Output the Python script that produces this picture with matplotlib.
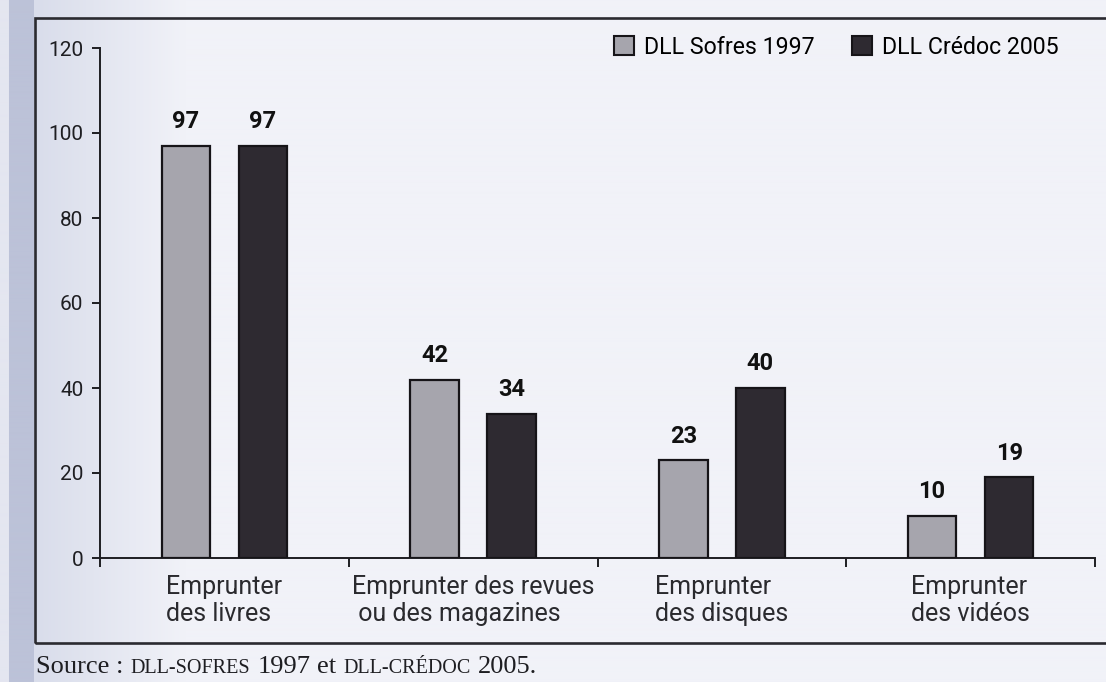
import matplotlib.pyplot as plt
import numpy as np
from matplotlib.colors import to_rgb
from matplotlib.patches import Patch, Rectangle


categories = [
    "Emprunter\ndes livres",
    "Emprunter des revues\n ou des magazines",
    "Emprunter\ndes disques",
    "Emprunter\ndes vidéos",
]
sofres_1997 = [97, 42, 23, 10]
credoc_2005 = [97, 34, 40, 19]
series_names = ["DLL Sofres 1997", "DLL Crédoc 2005"]
y_ticks = [0, 20, 40, 60, 80, 100, 120]

PAPER = "#f1f2f8"
GREY = "#a6a5ad"
DARK = "#2e2a31"
EDGE = "#161418"
INK = "#1e1e22"

W, H = 1106, 682


def draw_background(fig):
    # scanned page: bluish strip at the left margin fading into the paper
    bg = fig.add_axes([0, 0, 1, 1], zorder=-10)
    bg.axis("off")
    xs = np.arange(W)
    paper = np.array(to_rgb(PAPER))
    near = np.array(to_rgb("#d9ddeb"))
    strip = np.array(to_rgb("#bcc2d8"))
    edge = np.array(to_rgb("#e4e6f0"))
    t = np.clip((xs - 36) / 150, 0, 1)[:, None]
    row = near * (1 - t) + paper * t
    row[xs < 34] = strip
    row[xs < 9] = edge
    img = np.repeat(row[None, :, :], 2, axis=0)
    bg.imshow(img, aspect="auto", extent=[0, 1, 0, 1], interpolation="bilinear")
    bg.set_xlim(0, 1)
    bg.set_ylim(0, 1)


def draw_source(fig):
    renderer = fig.canvas.get_renderer()
    big, small = 19, 14.5
    pieces = [
        ("Source :", big),
        ("DLL-SOFRES", small),
        ("1997", big),
        ("et", big),
        ("DLL-CRÉDOC", small),
        ("2005.", big),
    ]
    x = 36 / W
    y = 1 - 673 / H
    for text, size in pieces:
        t = fig.text(x, y, text, fontsize=size, family="Liberation Serif",
                     color=INK, va="baseline", ha="left")
        bb = t.get_window_extent(renderer)
        x += (bb.width + 0.27 * big * 100 / 72) / W


def main():
    fig = plt.figure(figsize=(W / 100, H / 100), dpi=100)
    fig.patch.set_facecolor(PAPER)
    draw_background(fig)

    fig.add_artist(Rectangle((35 / W, 39 / H), 1.2, (643 - 18) / H,
                             transform=fig.transFigure, fill=False,
                             edgecolor="#2a2a30", linewidth=1.9, zorder=1))

    ax = fig.add_axes([100 / W, 124 / H, 995 / W, 510 / H])
    ax.set_facecolor("none")

    x = np.arange(len(categories))
    off, width = 0.155, 0.195
    b1 = ax.bar(x - off, sofres_1997, width, color=GREY, edgecolor=EDGE,
                linewidth=1.6, zorder=3)
    b2 = ax.bar(x + off, credoc_2005, width, color=DARK, edgecolor=EDGE,
                linewidth=1.6, zorder=3)
    for bars in (b1, b2):
        ax.bar_label(bars, padding=9, fontsize=17, fontweight="bold",
                     family="Roboto", color="#111")

    ax.set_xlim(-0.5, len(categories) - 0.5)
    ax.set_ylim(0, 120)

    for side in ["top", "right"]:
        ax.spines[side].set_visible(False)
    for side in ["left", "bottom"]:
        ax.spines[side].set_linewidth(1.4)
        ax.spines[side].set_color(INK)

    ax.set_yticks(y_ticks)
    ax.tick_params(axis="y", length=6, width=1.4, pad=6, labelsize=15,
                   color=INK, labelcolor=INK)
    for lbl in ax.get_yticklabels():
        lbl.set_family("Roboto")

    ax.set_xticks(x, categories)
    ax.set_xticks(np.arange(-0.5, len(categories)), minor=True)
    ax.tick_params(axis="x", which="major", length=0, pad=12, labelsize=18,
                   labelcolor="#2a2a2e")
    ax.tick_params(axis="x", which="minor", length=6.5, width=1.4, color=INK)
    for lbl in ax.get_xticklabels():
        lbl.set_family("Roboto")
        lbl.set_multialignment("left")
        lbl.set_linespacing(1.18)

    handles = [
        Patch(facecolor=GREY, edgecolor=EDGE, linewidth=1.5, label=series_names[0]),
        Patch(facecolor=DARK, edgecolor=EDGE, linewidth=1.5, label=series_names[1]),
    ]
    fig.legend(handles=handles, loc="center left",
               bbox_to_anchor=(614 / W, 1 - 47 / H), ncol=2, frameon=False,
               prop={"family": "Roboto", "size": 16.7},
               handlelength=0.85, handleheight=0.85, handletextpad=0.45,
               columnspacing=1.6, borderpad=0, borderaxespad=0)

    draw_source(fig)

    fig.savefig("out.png", dpi=100, facecolor=fig.get_facecolor())
    plt.close(fig)


if __name__ == "__main__":
    main()
